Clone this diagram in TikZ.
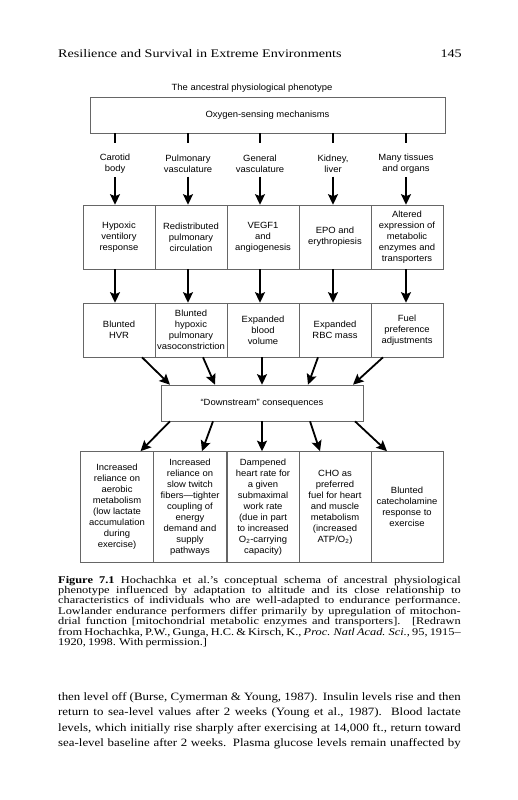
\documentclass[tikz,border=0pt]{standalone}
\usepackage{fontspec}
\setmainfont{Liberation Serif}
\newfontfamily\headfont[FakeStretch=1.22]{Liberation Serif}
\newfontfamily\bookfont[FakeStretch=1.15,WordSpace=0.85]{Liberation Serif}
\newfontfamily\capfont[FakeStretch=1.2,WordSpace=0.7]{Liberation Serif}
\newfontfamily\figfont[FakeStretch=1.05]{Liberation Sans}
\usetikzlibrary{arrows.meta}
\newcommand\jline[1]{\makebox[402.5pt][s]{#1}}
\begin{document}
\begin{tikzpicture}[x=1pt,y=-1pt,
  fig/.style={font=\figfont\fontsize{9}{11}\selectfont, align=center, inner sep=1pt},
  box/.style={fig, draw=black!60, line width=0.6pt, minimum width=72pt},
  rowa/.style={box, minimum height=64pt},
  rowb/.style={box, minimum height=54pt},
  rowc/.style={box, minimum height=111pt},
  arr/.style={line width=1.8pt, -{Stealth[length=10.5pt,width=10pt,inset=2pt]}},
  tick/.style={line width=1.7pt},
  capline/.style={anchor=base west, inner sep=0pt, font=\capfont\fontsize{10.3}{10.4}\selectfont},
  bodyline/.style={anchor=base west, inner sep=0pt, font=\bookfont\fontsize{11.2}{15.5}\selectfont},
]
\useasboundingbox[fill=white] (0,0) rectangle (517,800);

% running head
\node[anchor=base west, inner sep=0pt, font=\headfont\fontsize{11.6}{14}\selectfont] (head) at (58,57) {Resilience and Survival in Extreme Environments};
\node[anchor=base east, inner sep=0pt, font=\headfont\fontsize{11.6}{14}\selectfont] (pageno) at (462,57) {145};

% figure
\node[fig] (title) at (252,88) {The ancestral physiological phenotype};
\node[box, minimum width=355pt, minimum height=36pt] (oxy) at (267.5,115) {Oxygen-sensing mechanisms};

\node[fig] (l1) at (115,163.5) {Carotid\\body};
\node[fig] (l2) at (188,163.5) {Pulmonary\\vasculature};
\node[fig] (l3) at (260,163.5) {General\\vasculature};
\node[fig] (l4) at (333,163.5) {Kidney,\\liver};
\node[fig] (l5) at (406,163.5) {Many tissues\\and organs};

\foreach \i in {1,...,5}{
  \draw[tick] (oxy.south -| l\i) -- ++(0,10);
}

\node[rowa] (a1) at (119,237) {Hypoxic\\ventilory\\response};
\node[rowa] (a2) at (191,237) {Redistributed\\pulmonary\\circulation};
\node[rowa] (a3) at (263,237) {VEGF1\\and\\angiogenesis};
\node[rowa] (a4) at (335,237) {EPO and\\erythropiesis};
\node[rowa] (a5) at (407,237) {Altered\\expression of\\metabolic\\enzymes and\\transporters};

\node[rowb] (b1) at (119,330) {Blunted\\HVR};
\node[rowb] (b2) at (191,330) {Blunted\\hypoxic\\pulmonary\\vasoconstriction};
\node[rowb] (b3) at (263,330) {Expanded\\blood\\volume};
\node[rowb] (b4) at (335,330) {Expanded\\RBC mass};
\node[rowb] (b5) at (407,330) {Fuel\\preference\\adjustments};

\foreach \i in {1,...,5}{
  \draw[arr, shorten <=3pt] (l\i.south) -- (l\i.south |- a\i.north);
  \draw[arr] (a\i.south -| l\i) -- (b\i.north -| l\i);
}

\node[box, minimum width=202pt, minimum height=36pt] (ds) at (262,403) {“Downstream” consequences};

\draw[arr] ([xshift=23pt]b1.south) -- ([xshift=-92pt]ds.north);
\draw[arr] ([xshift=12pt]b2.south) -- ([xshift=-47pt]ds.north);
\draw[arr] ([xshift=-1pt]b3.south) -- ([xshift=0pt]ds.north);
\draw[arr] ([xshift=-17pt]b4.south) -- ([xshift=46pt]ds.north);
\draw[arr] ([xshift=-24pt]b5.south) -- ([xshift=91pt]ds.north);

\node[rowc, minimum width=73pt] (c1) at (117,507) {Increased\\reliance on\\aerobic\\metabolism\\(low lactate\\accumulation\\during\\exercise)};
\node[rowc, minimum width=73pt] (c2) at (190,507) {Increased\\reliance on\\slow twitch\\fibers—tighter\\coupling of\\energy\\demand and\\supply\\pathways};
\node[rowc] (c3) at (263,507) {Dampened\\heart rate for\\a given\\submaximal\\work rate\\(due in part\\to increased\\O\textsubscript{2}-carrying\\capacity)};
\node[rowc] (c4) at (335,507) {CHO as\\preferred\\fuel for heart\\and muscle\\metabolism\\(increased\\ATP/O\textsubscript{2})};
\node[rowc] (c5) at (407,507) {Blunted\\catecholamine\\response to\\exercise};

\draw[arr] ([xshift=-92pt]ds.south) -- ([xshift=23.5pt]c1.north);
\draw[arr] ([xshift=-49pt]ds.south) -- ([xshift=12pt]c2.north);
\draw[arr] ([xshift=0pt]ds.south) -- ([xshift=-1pt]c3.north);
\draw[arr] ([xshift=48pt]ds.south) -- ([xshift=-15pt]c4.north);
\draw[arr] ([xshift=93pt]ds.south) -- ([xshift=-20pt]c5.north);

% caption
\node[capline] (cap1) at (58,583) {\jline{\textbf{Figure 7.1} Hochachka et al.’s conceptual schema of ancestral physiological}};
\node[capline] (cap2) at (58,593.4) {\jline{phenotype influenced by adaptation to altitude and its close relationship to}};
\node[capline] (cap3) at (58,603.8) {\jline{characteristics of individuals who are well-adapted to endurance performance.}};
\node[capline] (cap4) at (58,614.2) {\jline{Lowlander endurance performers differ primarily by upregulation of mitochon-}};
\node[capline] (cap5) at (58,624.6) {\jline{drial function [mitochondrial metabolic enzymes and transporters]. [Redrawn}};
\node[capline] (cap6) at (58,635) {\jline{from Hochachka, P.W., Gunga, H.C. \& Kirsch, K., \textit{Proc. Natl Acad. Sci.}, 95, 1915–}};
\node[capline] (cap7) at (58,645.4) {1920, 1998. With permission.]};

% body text
\node[bodyline] (t1) at (58,700) {\jline{then level off (Burse, Cymerman \& Young, 1987). Insulin levels rise and then}};
\node[bodyline] (t2) at (58,715.5) {\jline{return to sea-level values after 2 weeks (Young et al., 1987). Blood lactate}};
\node[bodyline] (t3) at (58,731) {\jline{levels, which initially rise sharply after exercising at 14,000 ft., return toward}};
\node[bodyline] (t4) at (58,746.5) {\jline{sea-level baseline after 2 weeks. Plasma glucose levels remain unaffected by}};
\end{tikzpicture}
\end{document}
